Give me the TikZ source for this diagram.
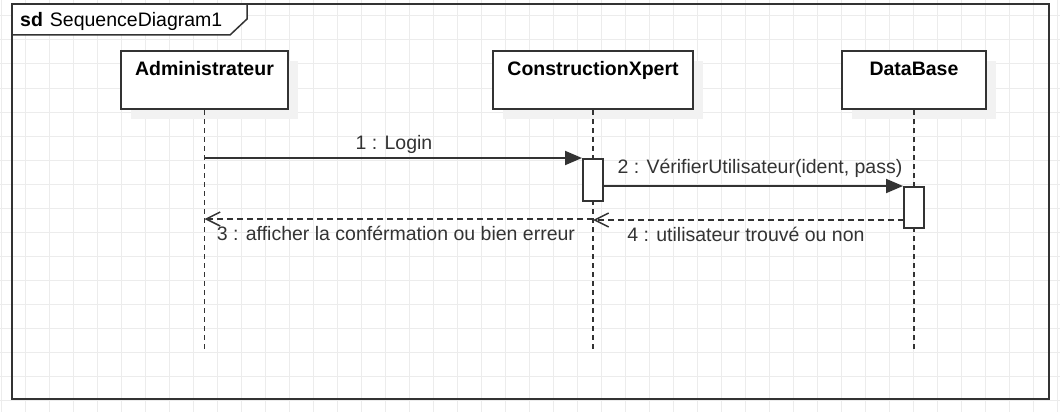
\documentclass[tikz,border=0pt]{standalone}
\usepackage{fontspec}
\setmainfont{Liberation Sans}
\usepackage{tikz}
\usetikzlibrary{arrows.meta,positioning,shadows}
\usepackage{xcolor}
\definecolor{linegray}{HTML}{333333}
\definecolor{gridgray}{HTML}{ECECEC}
\definecolor{shadegray}{HTML}{F2F2F2}

\begin{document}
\begin{tikzpicture}[x=1pt, y=-1pt,
    every node/.style={font=\fontsize{19.5}{22}\selectfont, text=linegray},
    obj/.style={draw=linegray, line width=2pt, fill=white,
      minimum height=58pt, inner sep=0pt,
      drop shadow={shadow xshift=10pt, shadow yshift=-10pt, fill=shadegray, opacity=1}},
    objtxt/.style={anchor=base, inner sep=0pt,
      font=\fontsize{19.5}{22}\selectfont\bfseries, text=black},
    act/.style={draw=linegray, line width=2pt, fill=white,
      minimum width=20pt, inner sep=0pt},
    life/.style={draw=linegray, line width=1.3pt, dash pattern=on 5pt off 4pt},
    msg/.style={draw=linegray, line width=2pt, -{Triangle[length=17pt, width=14pt]}},
    ret/.style={draw=linegray, line width=1.5pt, dash pattern=on 6pt off 4pt,
      -{Straight Barb[length=14pt, width=14pt, line width=1.5pt]}},
    lbl/.style={anchor=base, inner sep=0pt}]
  \useasboundingbox (0,0) rectangle (1060,412);
  \fill[white] (0,0) rectangle (1060,412);
  % === Background grid ===
  \foreach \gx in {1,25,...,1057}
    \draw[gridgray, line width=1pt] (\gx,0) -- (\gx,412);
  \foreach \gy in {16,40,...,400}
    \draw[gridgray, line width=1pt] (0,\gy) -- (1060,\gy);
  % === Frame: sd SequenceDiagram1 ===
  \draw[linegray, line width=1.5pt, fill=white]
    (12,4) -- (247,4) -- (247,19) -- (230,35) -- (12,35) -- cycle;
  \draw[linegray, line width=2pt] (12,4) rectangle (1049,399);
  \node[lbl, anchor=base west, text=black] (sdtitle) at (20,27)
    {\textbf{sd}\hspace{7pt}SequenceDiagram1};
  % === Participants ===
  \node[obj, minimum width=167pt] (admin) at (204.5,80) {};
  \node[obj, minimum width=200pt] (cxp)   at (593,80)   {};
  \node[obj, minimum width=144pt] (db)    at (914,80)   {};
  \node[objtxt] (admintxt) at (204.5,76) {Administrateur};
  \node[objtxt] (cxptxt)   at (593,76)   {ConstructionXpert};
  \node[objtxt] (dbtxt)    at (914,76)   {DataBase};
  % === Lifelines ===
  \coordinate (adminend) at (204.5,350);
  \coordinate (cxpend)   at (593,350);
  \coordinate (dbend)    at (914,350);
  \draw[life] (admin) -- (adminend);
  \draw[life] (cxp)   -- (cxpend);
  \draw[life] (db)    -- (dbend);
  % === Activations ===
  \node[act, minimum height=42pt] (cxpact) at (593,180)   {};
  \node[act, minimum height=41pt] (dbact)  at (914,207.5) {};
  % === Messages ===
  \draw[msg] (admin.south |- cxpact.north) -- (cxpact.north west);
  \node[lbl] (m1) at (394,149) {1 : Login};
  \draw[msg] (cxpact.east |- dbact.north) -- (dbact.north west);
  \node[lbl] (m2) at (760,173) {2 : VérifierUtilisateur(ident, pass)};
  \coordinate (r3) at (593,219);
  \draw[ret] (r3) -- (admin.south |- r3);
  \node[lbl] (m3) at (396,240) {3 : afficher la conférmation ou bien erreur};
  \coordinate (r4) at (904,220);
  \draw[ret] (r4) -- (cxp.south |- r4);
  \node[lbl] (m4) at (746,241) {4 : utilisateur trouvé ou non};
\end{tikzpicture}
\end{document}
